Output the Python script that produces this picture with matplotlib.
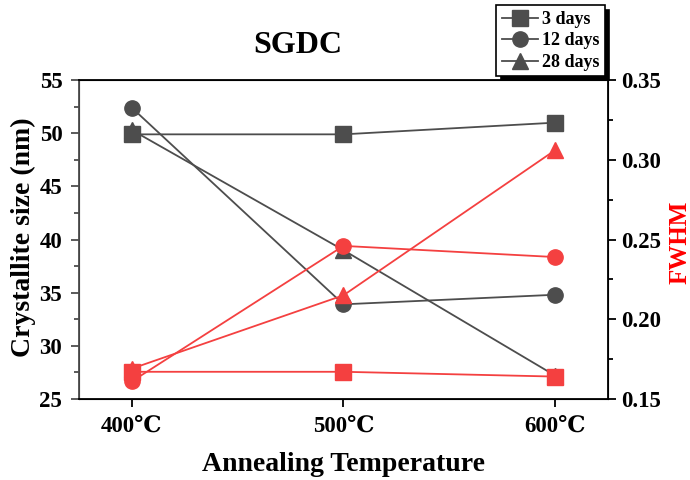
import matplotlib
matplotlib.use("Agg")
import matplotlib.pyplot as plt
from matplotlib.ticker import MultipleLocator

plt.rcParams['font.family'] = ['Liberation Serif', 'DejaVu Serif', 'Noto Sans CJK SC']
plt.rcParams['font.weight'] = 'bold'

temps = ['400℃', '500℃', '600℃']
series = ['3 days', '12 days', '28 days']
markers = ['s', 'o', '^']

# crystallite size (nm), left axis
size_vals = [
    [49.9, 49.9, 51.0],   # 3 days
    [52.4, 33.9, 34.8],   # 12 days
    [50.3, 39.0, 27.2],   # 28 days
]
# FWHM, right axis
fwhm_vals = [
    [0.167, 0.167, 0.164],
    [0.161, 0.246, 0.239],
    [0.169, 0.215, 0.306],
]

gray = '#4d4d4d'
red = '#f44040'
x = list(range(len(temps)))

fig = plt.figure(figsize=(6.9, 4.8), dpi=100)
ax = fig.add_axes([0.1145, 0.169, 0.7665, 0.664])
ax2 = ax.twinx()

handles = []
for vals, m, lab in zip(size_vals, markers, series):
    h, = ax.plot(x, vals, color=gray, marker=m, markersize=11, linewidth=1.3, label=lab, zorder=3)
    handles.append(h)
for vals, m in zip(fwhm_vals, markers):
    ax2.plot(x, vals, color=red, marker=m, markersize=11, linewidth=1.3, zorder=3)

ax.set_xlim(-0.25, 2.25)
ax.set_ylim(25, 55)
ax2.set_ylim(0.15, 0.35)
ax.set_xticks(x)
ax.set_xticklabels(temps)
ax.yaxis.set_major_locator(MultipleLocator(5))
ax.yaxis.set_minor_locator(MultipleLocator(2.5))
ax2.yaxis.set_major_locator(MultipleLocator(0.05))
ax2.yaxis.set_minor_locator(MultipleLocator(0.025))
ax2.yaxis.set_major_formatter(plt.FormatStrFormatter('%.2f'))

ax.tick_params(axis='both', labelsize=16.5, width=1.3, length=6)
ax.tick_params(axis='x', labelsize=16.5, pad=6)
ax.tick_params(axis='y', which='major', pad=6, colors=gray, labelcolor='black')
ax.tick_params(axis='y', which='minor', length=3.5, width=1.3, colors=gray)
ax2.tick_params(axis='y', which='major', labelsize=16.5, width=1.3, length=6)
ax2.tick_params(axis='y', which='minor', length=3.5, width=1.3)

for sp in ax2.spines.values():
    sp.set_linewidth(1.3)
ax2.spines['left'].set_color(gray)

fig.text(0.034, 0.505, 'Crystallite size (nm)', rotation=90, ha='center', va='center',
         fontsize=20, fontweight='bold')
fig.text(0.985, 0.496, 'FWHM', rotation=90, ha='center', va='center',
         fontsize=18, fontweight='bold', color='red')
ax.set_xlabel('Annealing Temperature', fontsize=20, fontweight='bold', labelpad=11)
fig.text(0.432, 0.905, 'SGDC', ha='center', va='center', fontsize=23, fontweight='bold')

leg = fig.legend(handles=handles, loc='upper right', bbox_to_anchor=(0.884, 1.0),
                 fontsize=13, frameon=True, fancybox=False,
                 shadow={'color': 'black', 'alpha': 1.0, 'ox': 3, 'oy': -3},
                 edgecolor='black', handlelength=2.0, handletextpad=0.2,
                 labelspacing=0.25, borderpad=0.3, borderaxespad=0.3)
leg.get_frame().set_linewidth(1.2)

fig.savefig('out.png', dpi=100)
